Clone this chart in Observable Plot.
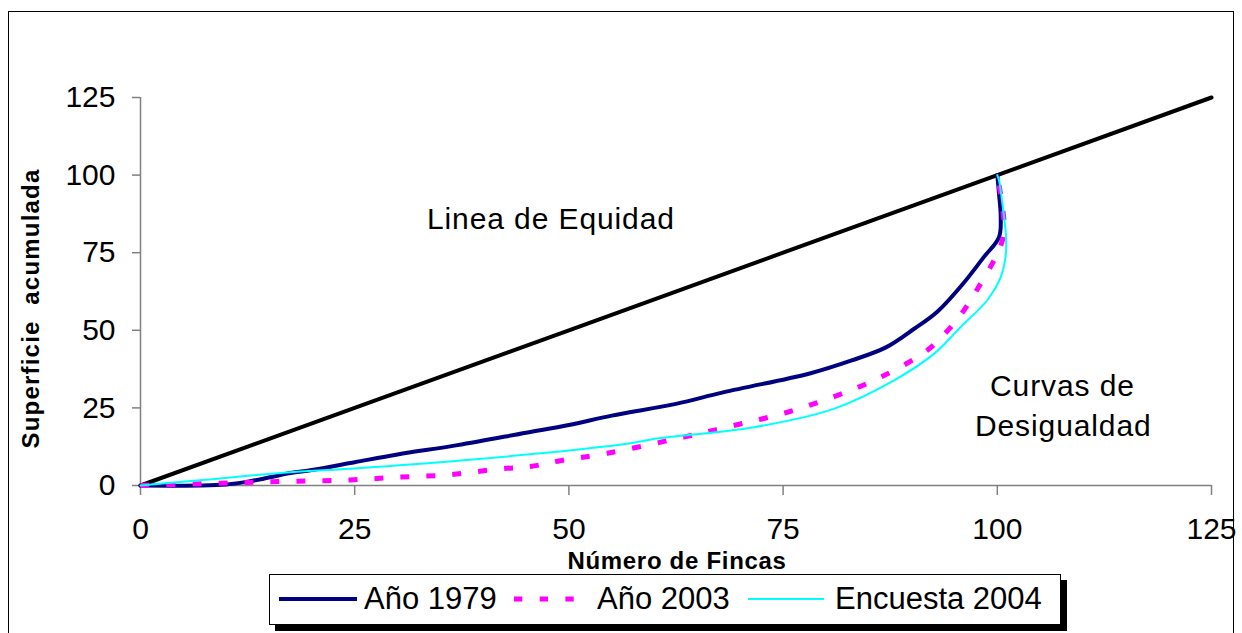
<!DOCTYPE html>
<html>
<head>
<meta charset="utf-8">
<script src="https://cdn.jsdelivr.net/npm/d3@7"></script>
<script src="https://cdn.jsdelivr.net/npm/@observablehq/plot@0.6"></script>
<style>
  html, body { margin: 0; padding: 0; background: #fff; }
  #wrap { position: relative; width: 1242px; height: 633px; overflow: hidden; background: #fff;
          font-family: "Liberation Sans", Arial, sans-serif; }
  #frame { position: absolute; left: 8px; top: 11px; width: 1224px; height: 700px; border: 1px solid #000; pointer-events: none; }
  #legend { position: absolute; left: 269px; top: 574px; width: 790px; height: 49px; border: 1.5px solid #000;
            box-shadow: 6px 6px 0 #000; background: #fff; }
  #legend .sw { position: absolute; top: 0; height: 49px; }
  #legend .lab { position: absolute; top: -1px; line-height: 49px; font-size: 31px; color: #000; white-space: nowrap; }
</style>
</head>
<body>
<div id="wrap">
  <div id="chart"></div>
  <div id="frame"></div>
  <div id="legend"></div>
</div>
<script>
// ---- data ----
const xTicks = [0, 25, 50, 75, 100, 125];
const yTicks = [0, 25, 50, 75, 100, 125];

const equidadX = [0, 25, 50, 75, 100, 125];
const equidadY = [0, 25, 50, 75, 100, 125];

const x1979 = [0, 7, 10, 12, 14, 17.5, 20, 25, 30, 37, 45, 50, 55, 62.5, 68, 75.5, 78, 83, 87, 90.3, 93, 96, 98.4, 100.2, 100.4, 100.2, 100];
const y1979 = [0, 0, 0.3, 1, 2, 4, 5, 7.5, 10, 13, 17, 19.5, 22.5, 26.3, 30, 34.4, 36, 40.3, 44.5, 50.5, 56, 65, 73.5, 80, 86.4, 94, 100];

const x2003 = [0, 6.6, 12.5, 18.3, 24.5, 30.3, 36.2, 42, 45.5, 49, 54.5, 63.4, 69.2, 75.5, 81.3, 86.4, 91.8, 94.2, 96.1, 97.7, 99.4, 100.2, 100.8, 100.6, 100];
const y2003 = [0, 0.5, 1, 1.4, 1.8, 2.7, 3.5, 5.4, 6.1, 8, 10.4, 15.6, 19.3, 23.6, 29, 34.9, 43.5, 49.9, 56.4, 63.4, 71.4, 75.7, 82, 89.7, 100];

const x2004 = [0, 6.6, 17.5, 24.5, 37.7, 57.2, 59.9, 71.6, 80.9, 87.9, 92.6, 95.7, 98.8, 100.4, 101, 101, 100.6, 100.2, 100];
const y2004 = [0, 1.6, 4.3, 5.4, 8.1, 13.6, 15, 18.8, 24.7, 33.8, 42.4, 51, 59.6, 67.1, 74.6, 81, 90.7, 98.3, 100];

const seriesNames = ["Año 1979", "Año 2003", "Encuesta 2004"];
const xTitle = "Número de Fincas";
const yTitle = "Superficie\u00a0 acumulada";
const annotations = [
  {text: "Linea de Equidad", x: 47.9, y: 85.8},
  {text: "Curvas de", x: 107.6, y: 31.8},
  {text: "Desigualdad", x: 107.7, y: 18.9}
];

// ---- build tables ----
const toRows = (xs, ys) => xs.map((x, i) => ({x, y: ys[i]}));
const equidad = toRows(equidadX, equidadY);
const s1979 = toRows(x1979, y1979);
const s2003 = toRows(x2003, y2003);
const s2004 = toRows(x2004, y2004);

const gray = "#808080";
const colors = ["#000080", "#FF00FF", "#00FFFF"];

const chart = Plot.plot({
  width: 1242,
  height: 633,
  marginLeft: 140,
  marginRight: 31,
  marginTop: 97,
  marginBottom: 148,
  style: {fontFamily: "'Liberation Sans', Arial, sans-serif", background: "transparent", color: "#000", overflow: "visible"},
  x: {domain: [0, 125], label: null},
  y: {domain: [0, 125], label: null},
  marks: [
    Plot.ruleY([0], {stroke: gray, strokeWidth: 1.5}),
    Plot.ruleX([0], {stroke: gray, strokeWidth: 1.5}),
    Plot.axisX({ticks: xTicks, tickSize: 10, tickPadding: 22, fontSize: 30, stroke: gray, strokeWidth: 1.5, fill: "#000", label: null}),
    Plot.axisY({ticks: yTicks, tickSize: 8, tickPadding: 17, fontSize: 30, stroke: gray, strokeWidth: 1.5, fill: "#000", label: null}),
    Plot.line(equidad, {x: "x", y: "y", stroke: "#000", strokeWidth: 4}),
    Plot.line(s1979, {x: "x", y: "y", stroke: colors[0], strokeWidth: 4, curve: "catmull-rom"}),
    Plot.line(s2003, {x: "x", y: "y", stroke: colors[1], strokeWidth: 5, strokeDasharray: "9,17", strokeLinecap: "butt", curve: "catmull-rom"}),
    Plot.line(s2004, {x: "x", y: "y", stroke: colors[2], strokeWidth: 2, curve: "catmull-rom"}),
    Plot.text(annotations, {x: "x", y: "y", text: "text", fontSize: 30, fill: "#000"}),
    Plot.text([xTitle], {frameAnchor: "bottom", textAnchor: "middle", lineAnchor: "middle", dx: 1, dy: 76, fontSize: 24, fontWeight: "bold", fill: "#000"}),
    Plot.text([yTitle], {frameAnchor: "left", textAnchor: "middle", lineAnchor: "middle", rotate: -90, dx: -109, dy: 17, fontSize: 24, fontWeight: "bold", fill: "#000"})
  ]
});
document.getElementById("chart").appendChild(chart);

// widen text slightly to match the reference's rendering
const spacing = new Map([
  ...annotations.map(d => [d.text, 0.9]),
  [xTitle, 0.7],
  [yTitle, 1.2]
]);
d3.select(chart).selectAll("text").each(function () {
  const ls = spacing.get(this.textContent);
  if (ls != null) this.setAttribute("letter-spacing", ls);
});

// ---- legend ----
const legend = document.getElementById("legend");
const swatchPos = [{l: 9, w: 78}, {l: 244, w: 60}, {l: 478, w: 76}];
const labelPos = [94, 327, 565];
const swatchStyle = [
  {sw: 4, dash: null},
  {sw: 5, dash: "8.3,17.4"},
  {sw: 2, dash: null}
];
seriesNames.forEach((name, i) => {
  const ns = "http://www.w3.org/2000/svg";
  const svg = document.createElementNS(ns, "svg");
  svg.setAttribute("class", "sw");
  svg.setAttribute("width", swatchPos[i].w);
  svg.setAttribute("height", 49);
  svg.style.left = swatchPos[i].l + "px";
  const ln = document.createElementNS(ns, "line");
  ln.setAttribute("x1", 0); ln.setAttribute("x2", swatchPos[i].w);
  ln.setAttribute("y1", 24); ln.setAttribute("y2", 24);
  ln.setAttribute("stroke", colors[i]);
  ln.setAttribute("stroke-width", swatchStyle[i].sw);
  if (i === 0) ln.setAttribute("stroke-linecap", "round");
  if (swatchStyle[i].dash) ln.setAttribute("stroke-dasharray", swatchStyle[i].dash);
  svg.appendChild(ln);
  legend.appendChild(svg);
  const lab = document.createElement("div");
  lab.className = "lab";
  lab.style.left = labelPos[i] + "px";
  lab.textContent = name;
  legend.appendChild(lab);
});
</script>
</body>
</html>
